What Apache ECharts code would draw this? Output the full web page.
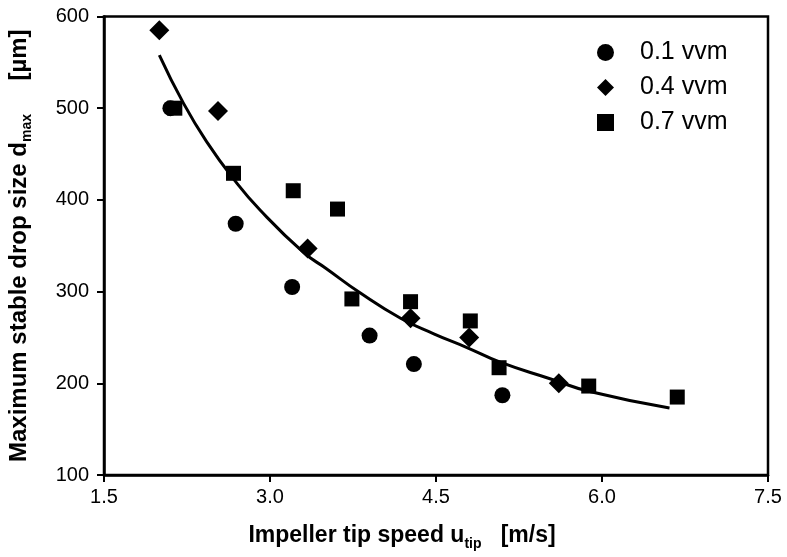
<!DOCTYPE html>
<html><head><meta charset="utf-8">
<script src="https://cdn.jsdelivr.net/npm/echarts@6/dist/echarts.min.js"></script>
<style>html,body{margin:0;padding:0;background:#fff}#c{width:787px;height:557px}</style>
</head><body><div id="c"></div>
<script>
var xTicks = [1.5, 3.0, 4.5, 6.0, 7.5];
var yTicks = [100, 200, 300, 400, 500, 600];
var seriesNames = ['0.1 vvm', '0.4 vvm', '0.7 vvm'];
var vvm01 = [[2.10,500],[2.69,374],[3.20,305],[3.90,252],[4.30,221],[5.10,187]];
var vvm04 = [[2.00,585],[2.53,497],[3.34,347],[4.27,271],[4.80,250],[5.61,200]];
var vvm07 = [[2.14,500],[2.67,429],[3.21,410],[3.61,390],[3.74,292],[4.27,289],[4.81,268],[5.07,217],[5.88,197],[6.68,185]];
var fitCurve = [[2.00,558],[2.22,505],[2.43,463],[2.67,423],[2.91,389],[3.30,343],[3.51,325],[3.81,299],[4.18,271],[4.48,254],[4.78,239],[5.08,223],[5.53,205],[5.89,191],[6.61,173]];

var F = '"Liberation Sans", Arial, sans-serif';
var chart = echarts.init(document.getElementById('c'));
chart.setOption({
  animation: false,
  backgroundColor: '#fff',
  grid: {left: 104, right: 19, top: 16.5, bottom: 82, outerBoundsMode: 'none', containLabel: false,
         show: true, borderColor: '#000', borderWidth: 2.5, backgroundColor: 'transparent'},
  legend: {
    orient: 'vertical', left: 592, top: 35, itemGap: 10, itemWidth: 17, itemHeight: 17,
    textStyle: {fontFamily: F, fontSize: 25, lineHeight: 25, color: '#000', padding: [0,0,0,21]},
    data: [
      {name: seriesNames[0], icon: 'circle'},
      {name: seriesNames[1], icon: 'diamond'},
      {name: seriesNames[2], icon: 'rect'}
    ]
  },
  xAxis: {
    type: 'value', min: xTicks[0], max: xTicks[xTicks.length-1], interval: 1.5,
    splitLine: {show: false},
    axisLine: {lineStyle: {color: '#000', width: 2.5}},
    axisTick: {length: 7, lineStyle: {color: '#000', width: 2}},
    axisLabel: {fontFamily: F, fontSize: 20, color: '#000', margin: 12, formatter: function(v){return v.toFixed(1);}},
    name: '{b|Impeller tip speed u}{s|tip}{b|   [m/s]}',
    nameLocation: 'middle', nameGap: 46,
    nameTextStyle: {padding: [0, 68, 0, 0], rich: {
      b: {fontFamily: F, fontSize: 23, fontWeight: 'bold', color: '#000'},
      s: {fontFamily: F, fontSize: 14, fontWeight: 'bold', color: '#000', padding: [16, 0, 0, 0]}
    }}
  },
  yAxis: {
    type: 'value', min: yTicks[0], max: yTicks[yTicks.length-1], interval: 100,
    splitLine: {show: false},
    axisLine: {lineStyle: {color: '#000', width: 2.5}},
    axisTick: {length: 7, lineStyle: {color: '#000', width: 2}},
    axisLabel: {fontFamily: F, fontSize: 20, color: '#000', margin: 15},
    name: '{b|Maximum stable drop size d}{s|max}{b|     [µm]}',
    nameLocation: 'middle', nameGap: 70,
    nameTextStyle: {rich: {
      b: {fontFamily: F, fontSize: 24, fontWeight: 'bold', color: '#000'},
      s: {fontFamily: F, fontSize: 14, fontWeight: 'bold', color: '#000', padding: [16, 0, 0, 0]}
    }}
  },
  series: [
    {name: 'fit', type: 'line', data: fitCurve, smooth: true, showSymbol: false, symbol: 'none',
     lineStyle: {color: '#000', width: 3}, z: 1, silent: true},
    {name: seriesNames[0], type: 'scatter', data: vvm01, symbol: 'circle', symbolSize: 16, itemStyle: {color: '#000', opacity: 1}, z: 3},
    {name: seriesNames[1], type: 'scatter', data: vvm04, symbol: 'diamond', symbolSize: 20, itemStyle: {color: '#000', opacity: 1}, z: 3},
    {name: seriesNames[2], type: 'scatter', data: vvm07, symbol: 'rect', symbolSize: 15, itemStyle: {color: '#000', opacity: 1}, z: 3}
  ]
});
</script></body></html>
